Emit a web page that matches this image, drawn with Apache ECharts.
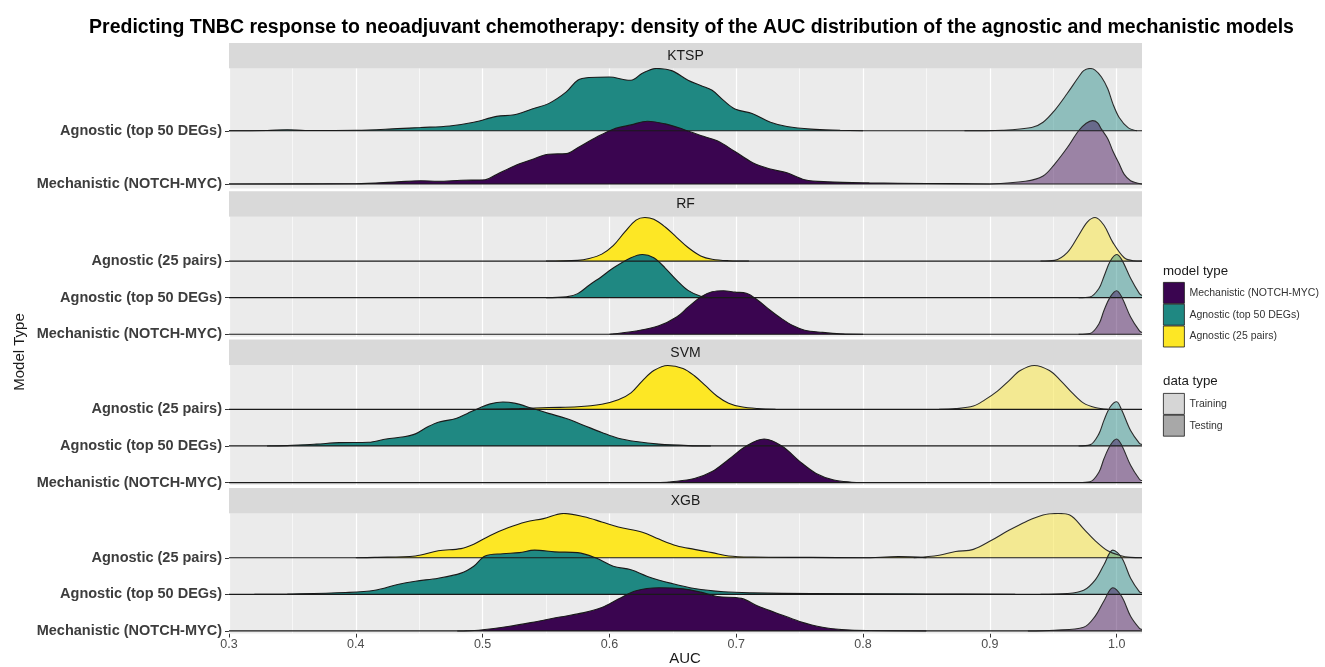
<!DOCTYPE html>
<html><head><meta charset="utf-8">
<script src="https://cdn.jsdelivr.net/npm/echarts@6/dist/echarts.min.js"></script>
<style>html,body{margin:0;padding:0;background:#fff}#c{width:1325px;height:667px}</style>
</head><body><div id="c"></div>
<script>
// ---------- data ----------
const facets = ['KTSP', 'RF', 'SVM', 'XGB'];
const modelTypes = ['Mechanistic (NOTCH-MYC)', 'Agnostic (top 50 DEGs)', 'Agnostic (25 pairs)'];
const dataTypes = ['Training', 'Testing'];
const majorBreaks = [0.3, 0.4, 0.5, 0.6, 0.7, 0.8, 0.9, 1.0];
const minorBreaks = [0.35, 0.45, 0.55, 0.65, 0.75, 0.85, 0.95];
const xMin = 0.3, xMax = 1.02;

// density heights [AUC, height in row units]
const ktspTop50Test = [[0.30,0],[0.33,0.005],[0.346,0.02],[0.36,0.005],[0.40,0.01],[0.433,0.04],[0.451,0.06],[0.474,0.09],[0.493,0.16],[0.511,0.27],[0.525,0.30],[0.539,0.41],[0.552,0.51],[0.566,0.73],[0.575,0.95],[0.584,1.0],[0.600,1.01],[0.612,0.96],[0.617,0.95],[0.626,1.08],[0.637,1.17],[0.649,1.13],[0.662,0.95],[0.672,0.85],[0.681,0.76],[0.690,0.57],[0.699,0.41],[0.713,0.32],[0.727,0.16],[0.740,0.08],[0.759,0.03],[0.782,0.01],[0.80,0]];
const ktspTop50Train = [[0.88,0],[0.91,0.01],[0.933,0.06],[0.942,0.16],[0.951,0.38],[0.961,0.70],[0.970,1.01],[0.974,1.13],[0.979,1.17],[0.983,1.14],[0.988,1.01],[0.993,0.79],[0.997,0.51],[1.002,0.25],[1.009,0.06],[1.016,0]];
const ktspMechTest = [[0.30,0],[0.40,0.005],[0.433,0.04],[0.451,0.06],[0.465,0.05],[0.483,0.07],[0.502,0.08],[0.511,0.18],[0.525,0.34],[0.539,0.46],[0.552,0.56],[0.566,0.57],[0.575,0.68],[0.589,0.87],[0.603,1.03],[0.617,1.11],[0.630,1.18],[0.644,1.13],[0.658,1.03],[0.672,0.91],[0.685,0.81],[0.699,0.61],[0.713,0.40],[0.727,0.28],[0.740,0.21],[0.754,0.08],[0.772,0.04],[0.805,0.02],[0.85,0.01],[0.90,0]];
const ktspMechTrain = [[0.90,0],[0.928,0.05],[0.942,0.15],[0.951,0.37],[0.961,0.68],[0.970,1.0],[0.976,1.14],[0.981,1.19],[0.985,1.15],[0.988,1.03],[0.993,0.85],[0.997,0.62],[1.002,0.38],[1.006,0.18],[1.011,0.06],[1.016,0.02],[1.02,0]];

const rfPairsTest = [[0.55,0],[0.575,0.02],[0.584,0.07],[0.594,0.19],[0.603,0.42],[0.612,0.79],[0.621,1.12],[0.628,1.19],[0.635,1.14],[0.644,0.93],[0.653,0.65],[0.662,0.37],[0.672,0.14],[0.681,0.05],[0.694,0.01],[0.71,0]];
const rfPairsTrain = [[0.94,0],[0.951,0.02],[0.961,0.23],[0.970,0.70],[0.977,1.07],[0.983,1.19],[0.990,0.98],[0.997,0.51],[1.006,0.09],[1.013,0.01],[1.02,0]];
const rfTop50Test = [[0.55,0],[0.566,0.02],[0.575,0.11],[0.584,0.34],[0.594,0.58],[0.603,0.81],[0.617,1.09],[0.626,1.18],[0.635,1.09],[0.644,0.81],[0.653,0.48],[0.662,0.20],[0.672,0.04],[0.681,0]];
const rfTop50Train = [[0.97,0],[0.979,0.02],[0.986,0.25],[0.990,0.58],[0.995,1.0],[1.0,1.18],[1.004,1.04],[1.011,0.53],[1.018,0.11],[1.02,0.06]];
const rfMechTest = [[0.60,0],[0.621,0.09],[0.639,0.23],[0.653,0.47],[0.662,0.74],[0.672,1.02],[0.681,1.16],[0.690,1.19],[0.699,1.15],[0.708,1.12],[0.717,0.93],[0.727,0.65],[0.736,0.42],[0.745,0.23],[0.754,0.11],[0.768,0.05],[0.782,0.01],[0.80,0]];
const rfMechTrain = [[0.97,0],[0.979,0.02],[0.986,0.28],[0.990,0.65],[0.995,1.02],[1.0,1.19],[1.004,1.02],[1.011,0.47],[1.018,0.09],[1.02,0.05]];

const svmPairsTest = [[0.50,0],[0.529,0.02],[0.552,0.05],[0.575,0.07],[0.594,0.14],[0.607,0.26],[0.617,0.45],[0.626,0.78],[0.635,1.06],[0.646,1.20],[0.658,1.12],[0.667,0.92],[0.676,0.64],[0.685,0.36],[0.694,0.17],[0.704,0.07],[0.717,0.02],[0.731,0]];
const svmPairsTrain = [[0.86,0],[0.873,0.02],[0.887,0.09],[0.896,0.26],[0.906,0.50],[0.915,0.78],[0.924,1.06],[0.935,1.20],[0.947,1.06],[0.956,0.78],[0.965,0.45],[0.974,0.17],[0.983,0.05],[0.993,0]];
const svmTop50Test = [[0.33,0],[0.346,0.01],[0.369,0.05],[0.387,0.09],[0.410,0.10],[0.424,0.19],[0.438,0.25],[0.447,0.33],[0.456,0.51],[0.465,0.65],[0.479,0.75],[0.488,0.89],[0.497,1.03],[0.506,1.15],[0.516,1.20],[0.525,1.17],[0.539,1.03],[0.552,0.89],[0.566,0.75],[0.580,0.56],[0.594,0.37],[0.607,0.21],[0.621,0.12],[0.639,0.05],[0.662,0.01],[0.68,0]];
const svmTop50Train = [[0.97,0],[0.979,0.03],[0.986,0.33],[0.990,0.70],[0.995,1.07],[1.0,1.21],[1.004,0.98],[1.011,0.42],[1.018,0.07],[1.02,0.04]];
const svmMechTest = [[0.64,0],[0.649,0.02],[0.667,0.11],[0.681,0.30],[0.694,0.63],[0.708,1.0],[0.722,1.19],[0.736,1.0],[0.750,0.58],[0.763,0.25],[0.777,0.07],[0.791,0.01],[0.80,0]];
const svmMechTrain = [[0.97,0],[0.979,0.02],[0.986,0.28],[0.990,0.65],[0.995,1.02],[1.0,1.19],[1.004,1.02],[1.011,0.47],[1.018,0.09],[1.02,0.05]];

const xgbPairsTest = [[0.40,0],[0.415,0.01],[0.447,0.05],[0.465,0.19],[0.483,0.25],[0.493,0.37],[0.506,0.61],[0.520,0.82],[0.534,0.98],[0.548,1.07],[0.564,1.21],[0.580,1.12],[0.594,0.98],[0.607,0.84],[0.626,0.70],[0.639,0.51],[0.653,0.33],[0.667,0.23],[0.681,0.14],[0.694,0.05],[0.713,0.02],[0.759,0.01],[0.80,0],[0.828,0.03],[0.85,0]];
const xgbPairsTrain = [[0.84,0],[0.860,0.07],[0.873,0.17],[0.887,0.23],[0.901,0.47],[0.915,0.75],[0.928,0.98],[0.942,1.17],[0.954,1.21],[0.963,1.17],[0.974,0.79],[0.983,0.47],[0.993,0.19],[1.002,0.07],[1.011,0.01],[1.02,0]];
const xgbTop50Test = [[0.32,0],[0.346,0.01],[0.392,0.05],[0.415,0.11],[0.433,0.27],[0.447,0.36],[0.465,0.44],[0.483,0.58],[0.493,0.77],[0.502,1.05],[0.516,1.11],[0.529,1.14],[0.541,1.21],[0.557,1.16],[0.575,1.14],[0.589,1.0],[0.603,0.77],[0.617,0.67],[0.630,0.49],[0.649,0.30],[0.667,0.16],[0.690,0.07],[0.713,0.04],[0.759,0.02],[0.85,0.01],[0.92,0]];
const xgbTop50Train = [[0.94,0],[0.961,0.02],[0.974,0.11],[0.983,0.39],[0.990,0.81],[0.997,1.21],[1.004,1.0],[1.011,0.44],[1.018,0.07],[1.02,0.04]];
const xgbMechTest = [[0.48,0],[0.497,0.02],[0.520,0.12],[0.543,0.26],[0.561,0.38],[0.580,0.50],[0.594,0.64],[0.607,0.87],[0.621,1.10],[0.639,1.18],[0.658,1.15],[0.672,1.06],[0.685,0.94],[0.704,0.89],[0.717,0.68],[0.731,0.50],[0.750,0.26],[0.768,0.10],[0.786,0.03],[0.805,0.01],[0.85,0]];
const xgbMechTrain = [[0.93,0],[0.951,0.02],[0.974,0.10],[0.983,0.40],[0.990,0.82],[0.997,1.18],[1.004,0.94],[1.011,0.40],[1.018,0.07],[1.02,0.04]];

// ---------- styles / layout ----------
const modelColors = ['#3a0550', '#1f8882', '#fde725'];
const trainAlpha = 0.45;
const FONT = '"Liberation Sans", Arial, Helvetica, sans-serif';
const facetTop = [43, 191.3, 339.6, 488];
const stripH = 25.5, panelH = 120, panelLeft = 229, panelW = 913;

const panelDefs = [
  { rows: [[ktspMechTest, ktspMechTrain], [ktspTop50Test, ktspTop50Train]], yMin: 0.915, yMax: 3.17 },
  { rows: [[rfMechTest, rfMechTrain], [rfTop50Test, rfTop50Train], [rfPairsTest, rfPairsTrain]], yMin: 0.93, yMax: 4.21 },
  { rows: [[svmMechTest, svmMechTrain], [svmTop50Test, svmTop50Train], [svmPairsTest, svmPairsTrain]], yMin: 0.93, yMax: 4.21 },
  { rows: [[xgbMechTest, xgbMechTrain], [xgbTop50Test, xgbTop50Train], [xgbPairsTest, xgbPairsTrain]], yMin: 0.93, yMax: 4.21 }
];

const grids = [], xAxes = [], yAxes = [], series = [], graphics = [];

function ridge(g, pts, base, color, op, name, stroke) {
  return {
    type: 'line', name: name, xAxisIndex: g, yAxisIndex: g, z: 3,
    data: pts.map(p => [p[0], base + p[1]]),
    smooth: 0.35, symbol: 'none', silent: true,
    lineStyle: { color: stroke, width: 1.1 },
    itemStyle: { color: color },
    areaStyle: { color: color, opacity: op, origin: base }
  };
}

panelDefs.forEach((p, g) => {
  const last = g === panelDefs.length - 1;
  const nRows = p.rows.length;
  const rowVals = p.rows.map((r, i) => i + 1);
  grids.push({ left: panelLeft, width: panelW, top: facetTop[g] + stripH, height: panelH,
    show: true, backgroundColor: '#EBEBEB', borderWidth: 0 });
  xAxes.push({
    type: 'value', gridIndex: g, min: xMin, max: xMax,
    axisLine: { show: false }, splitLine: { show: false },
    axisTick: { show: last, customValues: majorBreaks, length: 4, lineStyle: { color: '#333', width: 1 } },
    axisLabel: { show: last, customValues: majorBreaks, formatter: v => v.toFixed(1), margin: 5,
      fontSize: 12.5, color: '#4d4d4d', fontFamily: FONT }
  });
  yAxes.push({
    type: 'value', gridIndex: g, min: p.yMin, max: p.yMax,
    axisLine: { show: false }, splitLine: { show: false },
    axisTick: { show: true, customValues: rowVals, length: 4, lineStyle: { color: '#333', width: 1 } },
    axisLabel: { customValues: rowVals, formatter: v => modelTypes[Math.round(v) - 1], margin: 7,
      fontSize: 14.5, fontWeight: 'bold', color: '#3d3d3d', fontFamily: FONT }
  });
  // panel grid lines (below the ridges)
  series.push({
    type: 'line', xAxisIndex: g, yAxisIndex: g, data: [[xMin, p.yMin]], symbol: 'none', silent: true,
    z: 1, lineStyle: { opacity: 0 },
    markLine: {
      z: 1, silent: true, symbol: ['none', 'none'], label: { show: false }, animation: false,
      lineStyle: { color: '#ffffff', type: 'solid', width: 1.2 },
      data: minorBreaks.map(v => ({ xAxis: v, lineStyle: { width: 0.6, color: '#ffffff', type: 'solid' } }))
        .concat(majorBreaks.map(v => ({ xAxis: v, lineStyle: { width: 1.2, color: '#ffffff', type: 'solid' } })))
    }
  });
  for (let i = nRows - 1; i >= 0; i--) {
    const base = i + 1;
    const test = p.rows[i][0], train = p.rows[i][1];
    series.push(ridge(g, test, base, modelColors[i], 1, modelTypes[i], '#1a1a1a'));
    series.push(ridge(g, train, base, modelColors[i], trainAlpha, dataTypes[0], '#2b2b2b'));
    series.push({ type: 'line', xAxisIndex: g, yAxisIndex: g, data: [[xMin, base], [xMax, base]], z: 3,
      symbol: 'none', silent: true, lineStyle: { color: '#1a1a1a', width: 1.2 } });
  }
  // strip
  graphics.push({ type: 'rect', shape: { x: panelLeft, y: facetTop[g], width: panelW, height: stripH },
    style: { fill: '#D9D9D9' }, silent: true });
  graphics.push({ type: 'text', x: panelLeft + panelW / 2, y: facetTop[g] + stripH / 2 + 0.5, silent: true,
    style: { text: facets[g], font: '14px ' + FONT, fill: '#1a1a1a', align: 'center', verticalAlign: 'middle' } });
});
series.push({ type: 'line', name: dataTypes[1], xAxisIndex: 0, yAxisIndex: 0, data: [] });

graphics.push({ type: 'text', x: 691.5, y: 28, silent: true,
  style: { text: 'Predicting TNBC response to neoadjuvant chemotherapy: density of the AUC distribution of the agnostic and mechanistic models',
    font: 'bold 19.5px ' + FONT, fill: '#000', align: 'center', verticalAlign: 'middle' } });
graphics.push({ type: 'text', x: 685, y: 659, silent: true,
  style: { text: 'AUC', font: '15px ' + FONT, fill: '#1a1a1a', align: 'center', verticalAlign: 'middle' } });
graphics.push({ type: 'text', x: 20, y: 352, rotation: Math.PI / 2, silent: true,
  style: { text: 'Model Type', font: '15px ' + FONT, fill: '#1a1a1a', align: 'center', verticalAlign: 'middle' } });
graphics.push({ type: 'text', x: 1163, y: 271, silent: true,
  style: { text: 'model type', font: '13.3px ' + FONT, fill: '#1a1a1a', align: 'left', verticalAlign: 'middle' } });
graphics.push({ type: 'text', x: 1163, y: 381, silent: true,
  style: { text: 'data type', font: '13.3px ' + FONT, fill: '#1a1a1a', align: 'left', verticalAlign: 'middle' } });

const legendText = { fontSize: 10.5, color: '#333', fontFamily: FONT };
const option = {
  animation: false,
  backgroundColor: '#ffffff',
  grid: grids, xAxis: xAxes, yAxis: yAxes, series: series,
  graphic: graphics,
  legend: [
    { orient: 'vertical', left: 1163, top: 282, padding: 0, itemWidth: 21, itemHeight: 21, itemGap: 0,
      icon: 'rect', selectedMode: false, textStyle: legendText,
      data: modelTypes.map((n, i) => ({ name: n, icon: 'rect',
        itemStyle: { color: modelColors[i], borderColor: '#1a1a1a', borderWidth: 0.8, opacity: 1 } })) },
    { orient: 'vertical', left: 1163, top: 393, padding: 0, itemWidth: 21, itemHeight: 21, itemGap: 0,
      icon: 'rect', selectedMode: false, textStyle: legendText,
      data: [
        { name: dataTypes[0], icon: 'rect', itemStyle: { color: '#d6d6d6', borderColor: '#1a1a1a', borderWidth: 0.8, opacity: 1 } },
        { name: dataTypes[1], icon: 'rect', itemStyle: { color: '#a8a8a8', borderColor: '#1a1a1a', borderWidth: 0.8, opacity: 1 } }
      ] }
  ]
};
const chart = echarts.init(document.getElementById('c'), null, { renderer: 'canvas' });
chart.setOption(option);
</script></body></html>
